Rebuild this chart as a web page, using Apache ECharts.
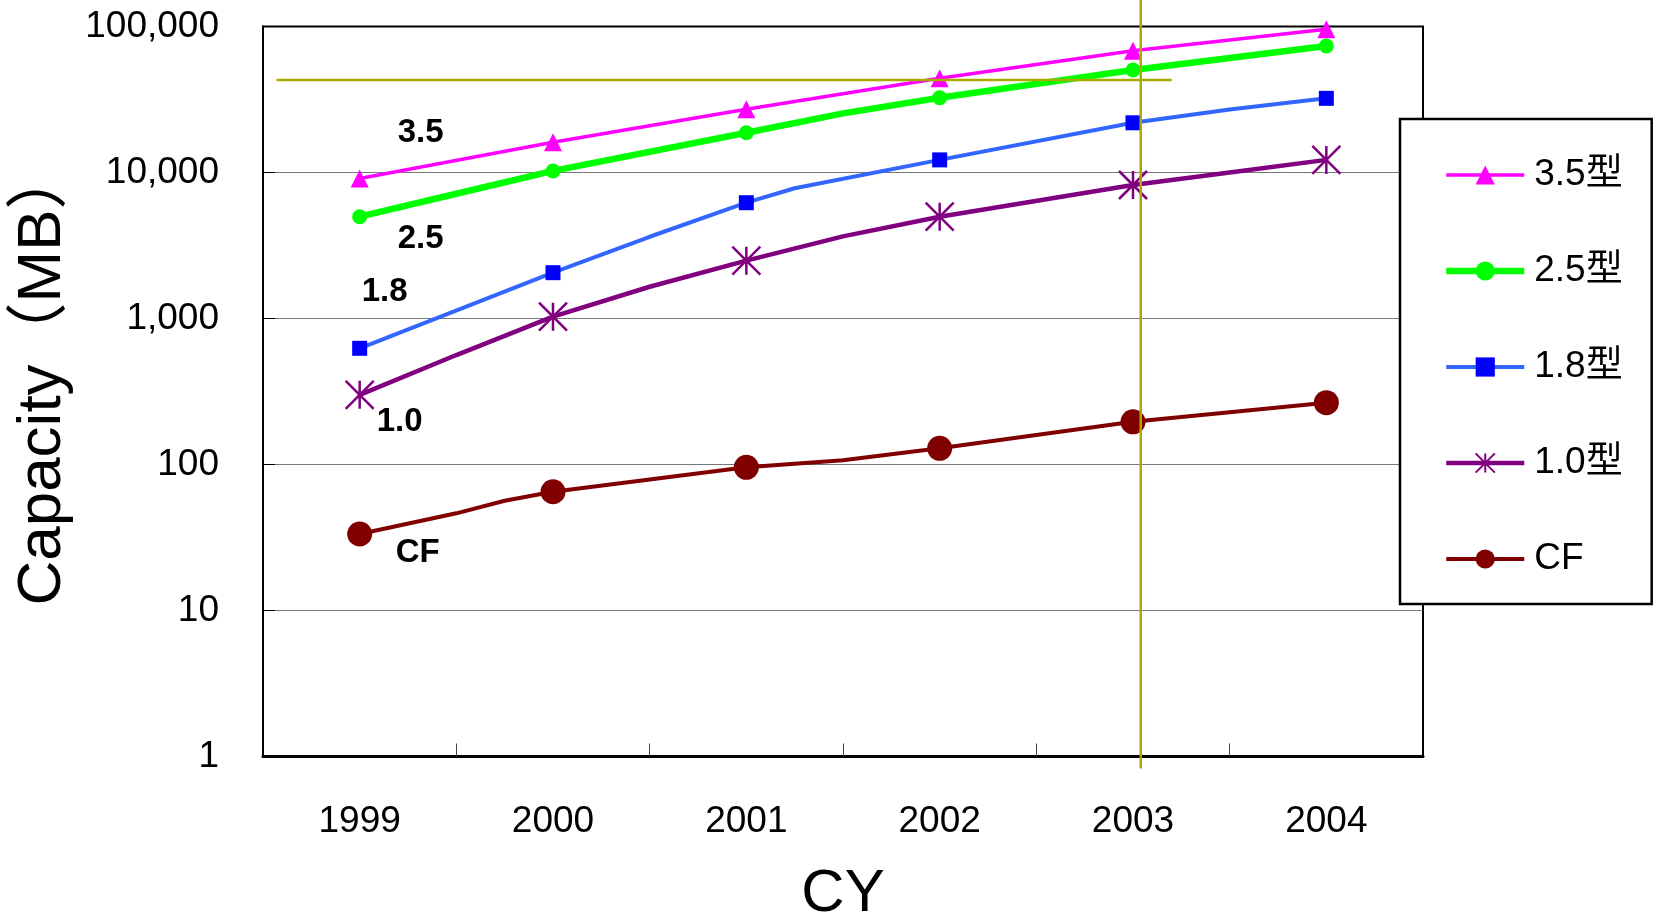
<!DOCTYPE html>
<html><head><meta charset="utf-8">
<script src="https://cdn.jsdelivr.net/npm/echarts@6/dist/echarts.min.js"></script>
<style>html,body{margin:0;padding:0;background:#fff;overflow:hidden}#c{width:1656px;height:915px}</style>
</head><body><div id="c"></div>
<script>
// ---- data ----
const yearLabels = [1999, 2000, 2001, 2002, 2003, 2004];
const halfYearTicks = [1999.5, 2000.5, 2001.5, 2002.5, 2003.5];
const seriesNames = ['3.5型', '2.5型', '1.8型', '1.0型', 'CF'];
const inlineLabels = ['3.5', '2.5', '1.8', '1.0', 'CF'];

const x35 = [1999, 2000, 2001, 2002, 2003, 2004];
const y35 = [9100, 16100, 27100, 44200, 68300, 95700];

const x25 = [1999, 1999.5, 2000, 2001, 2001.5, 2002, 2003, 2004];
const y25 = [4980, 7150, 10250, 18700, 25400, 32500, 50400, 73500];

const x18 = [1999, 2000, 2000.5, 2001, 2001.25, 2002, 2003, 2003.5, 2004];
const y18 = [625, 2060, 3630, 6210, 7800, 12200, 21900, 27000, 32200];

const x10 = [1999, 1999.5, 2000, 2000.5, 2001, 2001.5, 2002, 2003, 2003.5, 2004];
const y10 = [300, 562, 1030, 1650, 2490, 3650, 4980, 8210, 10000, 12200];

const xCF = [1999, 1999.5, 1999.75, 2000, 2000.5, 2001, 2001.5, 2002, 2003, 2004];
const yCF = [33.4, 46.3, 56.5, 65.1, 79, 95.7, 107, 129, 196, 265];

// annotation lines (data units)
const refHValue = 43000;
const refHRange = [1998.57, 2003.2];
const refVX = 2003.04;

// ---- styles ----
const FONT = "'Liberation Sans','Noto Sans CJK JP',sans-serif";
const styles = [
  {line: '#FF00FF', mark: '#FF00FF', width: 3.5, symbol: 'triangle', size: 18, lab: [61, -46]},
  {line: '#00FF00', mark: '#00FF00', width: 6.5, symbol: 'circle', size: 15, lab: [61, 22]},
  {line: '#3366FF', mark: '#0000FF', width: 4, symbol: 'rect', size: 15, lab: [25, -56]},
  {line: '#800080', mark: '#800080', width: 4.5, symbol: 'path://M0,0L10,10M10,0L0,10M5,0L5,10', size: 28, lab: [40, 27]},
  {line: '#800000', mark: '#800000', width: 4, symbol: 'circle', size: 25, lab: [58, 19]}
];
const xs = [x35, x25, x18, x10, xCF];
const ys = [y35, y25, y18, y10, yCF];

function fmt(v) {
  return String(Math.round(v)).replace(/\B(?=(\d{3})+(?!\d))/g, ',');
}

const series = seriesNames.map((name, i) => {
  const st = styles[i];
  const data = xs[i].map((x, j) => {
    const item = {value: [x, ys[i][j]]};
    if (j === 0) {
      item.label = {
        show: true, position: 'inside', offset: st.lab,
        formatter: inlineLabels[i],
        fontSize: 33, fontWeight: 'bold', fontFamily: FONT, color: '#000'
      };
    }
    return item;
  });
  const isStar = st.symbol.indexOf('path://') === 0;
  return {
    name: name, type: 'line', data: data,
    symbol: st.symbol,
    symbolSize: (v) => Number.isInteger(v[0]) ? st.size : 0,
    showAllSymbol: true,
    lineStyle: {color: st.line, width: st.width},
    itemStyle: isStar ? {color: st.mark, borderColor: st.mark, borderWidth: 2.5}
                      : {color: st.mark, borderWidth: 0},
    emphasis: {disabled: true},
    animation: false,
    z: 2 + (4 - i)
  };
});

const legendData = seriesNames.map((name, i) => ({
  name: name,
  lineStyle: {color: styles[i].line, width: styles[i].width}
}));

const chart = echarts.init(document.getElementById('c'), null, {renderer: 'canvas'});
chart.setOption({
  backgroundColor: '#fff',
  animation: false,
  grid: {
    left: 263, right: 233, top: 26.5, bottom: 158.5,
    containLabel: false, outerBoundsMode: 'none',
    show: true, borderColor: '#000', borderWidth: 2, backgroundColor: 'transparent'
  },
  xAxis: {
    type: 'value', min: 1998.5, max: 2004.5,
    name: 'CY', nameLocation: 'middle', nameGap: 108,
    nameTextStyle: {fontSize: 60, fontFamily: FONT, color: '#000'},
    axisLine: {show: true, lineStyle: {color: '#000', width: 3}},
    axisTick: {show: true, inside: true, length: 13, customValues: halfYearTicks, lineStyle: {color: '#444', width: 1}},
    axisLabel: {customValues: yearLabels, fontSize: 37, fontFamily: FONT, color: '#000', margin: 47, formatter: (v) => String(Math.round(v))},
    splitLine: {show: false}
  },
  yAxis: {
    type: 'log', logBase: 10, min: 1, max: 100000,
    name: 'Capacity（MB）', nameLocation: 'middle', nameGap: 175,
    nameTextStyle: {fontSize: 62, fontFamily: FONT, color: '#000', padding: [0, 0, 0, 30]},
    axisLine: {show: true, lineStyle: {color: '#000', width: 2}},
    axisTick: {show: true, inside: true, length: 12, lineStyle: {color: '#000', width: 1}},
    axisLabel: {fontSize: 37, fontFamily: FONT, color: '#000', margin: 44, padding: [12, 0, 0, 0], formatter: fmt},
    splitLine: {show: true, showMinLine: false, showMaxLine: false, lineStyle: {color: '#777', width: 1}}
  },
  legend: {
    orient: 'vertical', left: 1400, top: 119,
    data: legendData,
    itemWidth: 78, itemHeight: 24, itemGap: 56,
    padding: [36, 29, 25, 43],
    borderColor: '#000', borderWidth: 2.5, backgroundColor: '#fff',
    textStyle: {fontSize: 37, fontFamily: FONT, color: '#000', lineHeight: 40, padding: [0, 0, 0, 5]}
  },
  series: series
});

// annotation lines positioned through the axes
const h1 = chart.convertToPixel({gridIndex: 0}, [refHRange[0], refHValue]);
const h2 = chart.convertToPixel({gridIndex: 0}, [refHRange[1], refHValue]);
const vb = chart.convertToPixel({gridIndex: 0}, [refVX, 1]);
chart.setOption({
  graphic: [
    {type: 'line', z: 100, shape: {x1: h1[0], y1: h1[1], x2: h2[0], y2: h2[1]}, style: {stroke: '#AAAA00', lineWidth: 2.5}},
    {type: 'line', z: 100, shape: {x1: vb[0], y1: 0, x2: vb[0], y2: vb[1] + 12}, style: {stroke: '#AAAA00', lineWidth: 2.5}}
  ]
});
</script>
</body></html>
